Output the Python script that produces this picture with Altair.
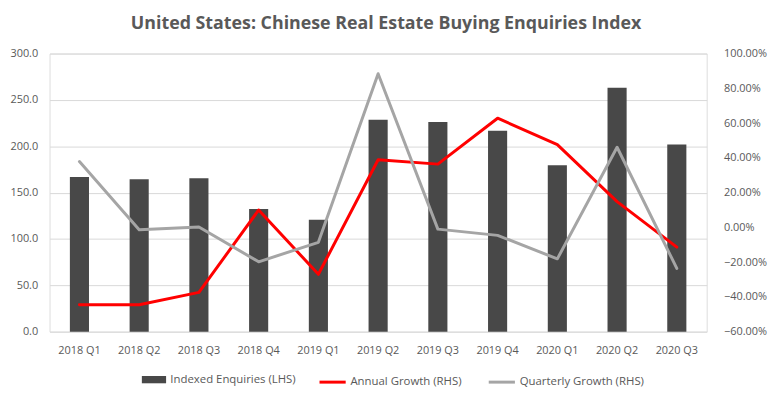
import altair as alt
import pandas as pd

quarters = ["2018 Q1", "2018 Q2", "2018 Q3", "2018 Q4", "2019 Q1", "2019 Q2",
            "2019 Q3", "2019 Q4", "2020 Q1", "2020 Q2", "2020 Q3"]
enquiries = [166.9, 164.4, 165.5, 132.4, 120.6, 228.5, 226.3, 216.7, 179.4, 263.0, 201.8]
annual_growth = [-44.5, -44.5, -37.4, 10.0, -27.0, 38.9, 36.4, 62.8, 47.6, 14.8, -11.4]
quarterly_growth = [37.9, -1.4, 0.2, -19.8, -8.6, 88.4, -1.0, -4.6, -18.1, 46.1, -23.6]

bar_name = "Indexed Enquiries (LHS)"
annual_name = "Annual Growth (RHS)"
quarterly_name = "Quarterly Growth (RHS)"

bars_df = pd.DataFrame({"quarter": quarters, "value": enquiries, "series": bar_name})
lines_df = pd.DataFrame({
    "quarter": quarters + quarters,
    "growth": [v / 100 for v in annual_growth] + [v / 100 for v in quarterly_growth],
    "series": [annual_name] * len(quarters) + [quarterly_name] * len(quarters),
    "order": [0] * len(quarters) + [1] * len(quarters),
})

TXT = "#595959"
FONT = "Open Sans"

x_enc = alt.X("quarter:N", sort=quarters, title=None,
              scale=alt.Scale(paddingInner=0.68, paddingOuter=0.34),
              axis=alt.Axis(labelAngle=0, ticks=False, domain=False, labelPadding=13,
                            labelFontSize=11, labelColor=TXT, labelFont=FONT))

bars = alt.Chart(bars_df).mark_bar(color="#484848").encode(
    x=x_enc,
    y=alt.Y("value:Q", title=None,
            scale=alt.Scale(domain=[0, 300], nice=False),
            axis=alt.Axis(values=[0, 50, 100, 150, 200, 250, 300], format=".1f",
                          ticks=False, domain=False, labelPadding=12,
                          gridColor="#d9d9d9", labelFontSize=11, labelColor=TXT,
                          labelFont=FONT)),
    fill=alt.Fill("series:N", scale=alt.Scale(domain=[bar_name], range=["#484848"]),
                  legend=alt.Legend(title=None, orient="none", legendX=93, legendY=317,
                                    symbolType="M-1,-0.3H1V0.3H-1Z", symbolSize=600,
                                    symbolStrokeWidth=0, labelFontSize=11.5,
                                    labelColor=TXT, labelFont=FONT, labelOffset=4)),
)

lines = alt.Chart(lines_df).mark_line(strokeWidth=3, strokeJoin="round", strokeCap="round").encode(
    x=alt.X("quarter:N", sort=quarters),
    y=alt.Y("growth:Q", title=None,
            scale=alt.Scale(domain=[-0.6, 1.0], nice=False),
            axis=alt.Axis(orient="right", values=[-0.6, -0.4, -0.2, 0, 0.2, 0.4, 0.6, 0.8, 1.0],
                          format=".2%", grid=False, ticks=False, domain=False,
                          labelPadding=17, labelFontSize=11, labelColor=TXT,
                          labelFont=FONT)),
    stroke=alt.Stroke("series:N",
                      scale=alt.Scale(domain=[annual_name, quarterly_name],
                                      range=["#ff0000", "#a5a5a5"]),
                      legend=alt.Legend(title=None, orient="none", direction="horizontal",
                                        legendX=271, legendY=317, symbolType="stroke",
                                        symbolSize=700, symbolStrokeWidth=3,
                                        columnPadding=20, labelFontSize=11.5,
                                        labelColor=TXT, labelFont=FONT, labelOffset=3)),
    order=alt.Order("order:Q"),
)

chart = alt.layer(bars, lines).resolve_scale(y="independent").properties(
    width=664,
    height=281,
    autosize=alt.AutoSizeParams(type="none"),
    padding={"left": 42, "top": 44, "right": 66, "bottom": 66},
    title=alt.TitleParams("United States: Chinese Real Estate Buying Enquiries Index",
                          fontSize=18, font=FONT, fontWeight="bold", color=TXT,
                          anchor="middle", dx=8, offset=15),
).configure_view(stroke=None).configure(background="white")

chart.save("out.html", embed_options={"renderer": "svg", "actions": False})
